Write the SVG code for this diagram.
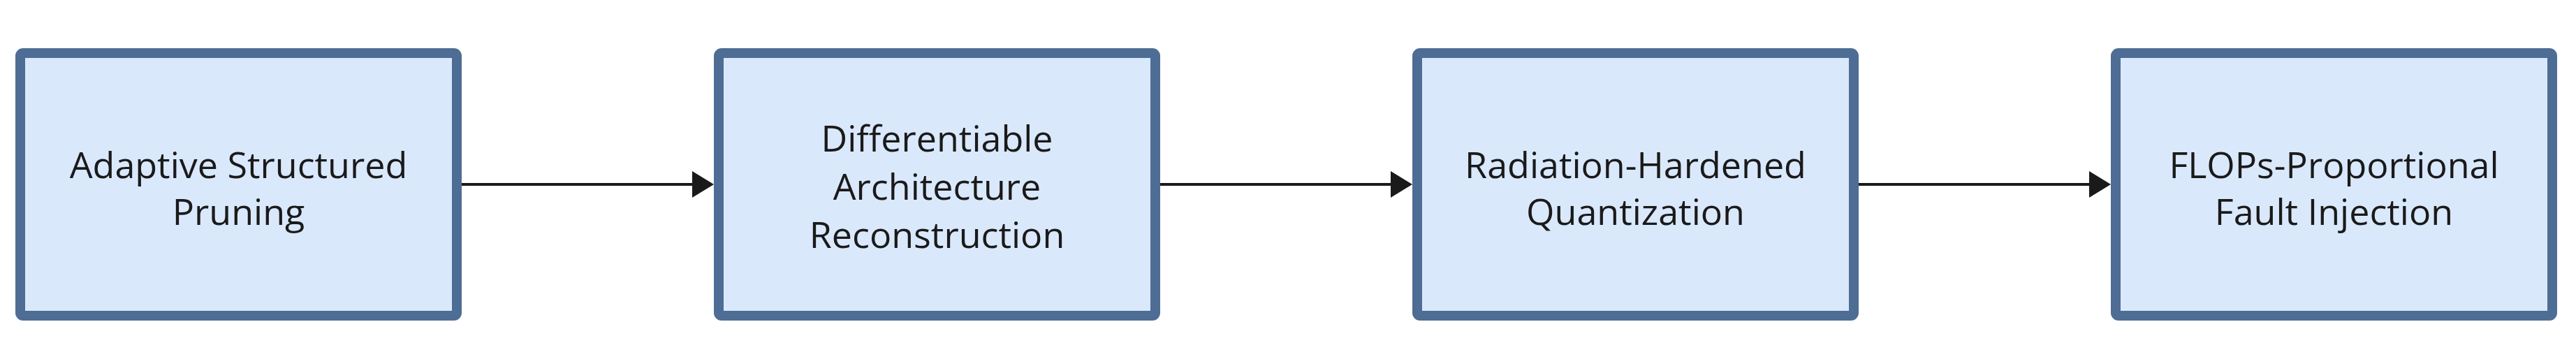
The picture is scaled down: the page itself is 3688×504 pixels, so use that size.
<svg xmlns="http://www.w3.org/2000/svg" width="3688" height="504" viewBox="0 0 3688 504">
<style>
.box{fill:#dae8fc;stroke:#4e6d94;stroke-width:14}
.lbl{font-family:"Open Sans","Noto Sans",sans-serif;font-size:52px;fill:#1a1a1a;text-anchor:middle}
.edge{stroke:#1a1a1a;stroke-width:4;fill:none}
</style>
<defs>
<marker id="arr" markerUnits="userSpaceOnUse" markerWidth="32" markerHeight="40" refX="4" refY="19" orient="auto">
<path d="M0,0 L31,19 L0,38 Z" fill="#1a1a1a"/>
</marker>
</defs>
<rect width="3688" height="504" fill="#ffffff"/>
<g id="connectors">
<line class="edge" x1="661" y1="264" x2="995" y2="264" marker-end="url(#arr)"/>
<line class="edge" x1="1661" y1="264" x2="1995" y2="264" marker-end="url(#arr)"/>
<line class="edge" x1="2661" y1="264" x2="2995" y2="264" marker-end="url(#arr)"/>
</g>
<g id="node1">
<rect class="box" x="29" y="76" width="625" height="376" rx="4"/>
<text class="lbl"><tspan x="341.5" y="255">Adaptive Structured</tspan><tspan x="341.5" y="322">Pruning</tspan></text>
</g>
<g id="node2">
<rect class="box" x="1029" y="76" width="625" height="376" rx="4"/>
<text class="lbl"><tspan x="1341.5" y="217">Differentiable</tspan><tspan x="1341.5" y="286">Architecture</tspan><tspan x="1341.5" y="355">Reconstruction</tspan></text>
</g>
<g id="node3">
<rect class="box" x="2029" y="76" width="625" height="376" rx="4"/>
<text class="lbl"><tspan x="2341.5" y="255">Radiation-Hardened</tspan><tspan x="2341.5" y="322">Quantization</tspan></text>
</g>
<g id="node4">
<rect class="box" x="3029" y="76" width="625" height="376" rx="4"/>
<text class="lbl"><tspan x="3341.5" y="255">FLOPs-Proportional</tspan><tspan x="3341.5" y="322">Fault Injection</tspan></text>
</g>
</svg>
